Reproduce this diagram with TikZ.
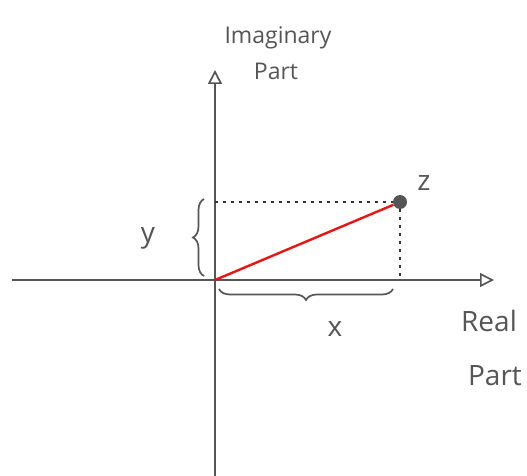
\documentclass[tikz,border=0pt]{standalone}
\usepackage{fontspec}
\setmainfont{Open Sans}
\usetikzlibrary{arrows.meta}
\usetikzlibrary{decorations.pathreplacing}
\definecolor{axisgray}{RGB}{85, 85, 85}
\definecolor{vecred}{RGB}{235, 20, 20}

\begin{document}
\begin{tikzpicture}[
  x=1pt, y=-1pt,
  font=\fontsize{23}{25}\selectfont,
  axis/.style={draw=axisgray, line width=1.7pt, -{Triangle[open, length=14pt, width=14pt, line width=1.7pt]}},
  guide/.style={draw=black!80, line width=1.2pt, dash pattern=on 3pt off 5pt},
  vec/.style={draw=vecred, line width=2.4pt},
  brc/.style={decorate, decoration={brace, amplitude=11pt}, draw=axisgray, line width=1.7pt},
  lab/.style={text=axisgray, inner sep=0pt},
  big/.style={font=\fontsize{28}{30}\selectfont}
]
\useasboundingbox (0,0) rectangle (527,476);

% axes
\coordinate (O)    at (215,280);
\coordinate (xmin) at (12,280);
\coordinate (xmax) at (494,280);
\coordinate (ymin) at (215,476);
\coordinate (ymax) at (215,70);
\draw[axis] (xmin) -- (xmax);
\draw[axis] (ymin) -- (ymax);

% the point z
\node[circle, fill=axisgray, inner sep=0pt, minimum size=14pt] (z) at (400,202) {};
\coordinate (zx) at (O -| z);
\coordinate (zy) at (O |- z);
\draw[guide] (zy) -- (z.west);
\draw[guide] (z.south) -- (zx);
\draw[vec] (O) -- (z);

% braces
\coordinate (by0) at (204,276);
\coordinate (by1) at (204,199);
\coordinate (bx0) at (393,289);
\coordinate (bx1) at (219,289);
\draw[brc] (by0) -- (by1);
\draw[brc] (bx0) -- (bx1);

% labels
\node[lab, big] (ylab)  at (148,238) {y};
\node[lab, big] (xlab)  at (335,329) {x};
\node[lab, big] (zlab)  at (424,183) {z};
\node[lab] (im1)   at (278,38)  {Imaginary};
\node[lab] (im2)   at (276,71)  {Part};
\node[lab, big] (re1) at (489,321) {Real};
\node[lab, big] (re2) at (495,376) {Part};
\end{tikzpicture}
\end{document}
